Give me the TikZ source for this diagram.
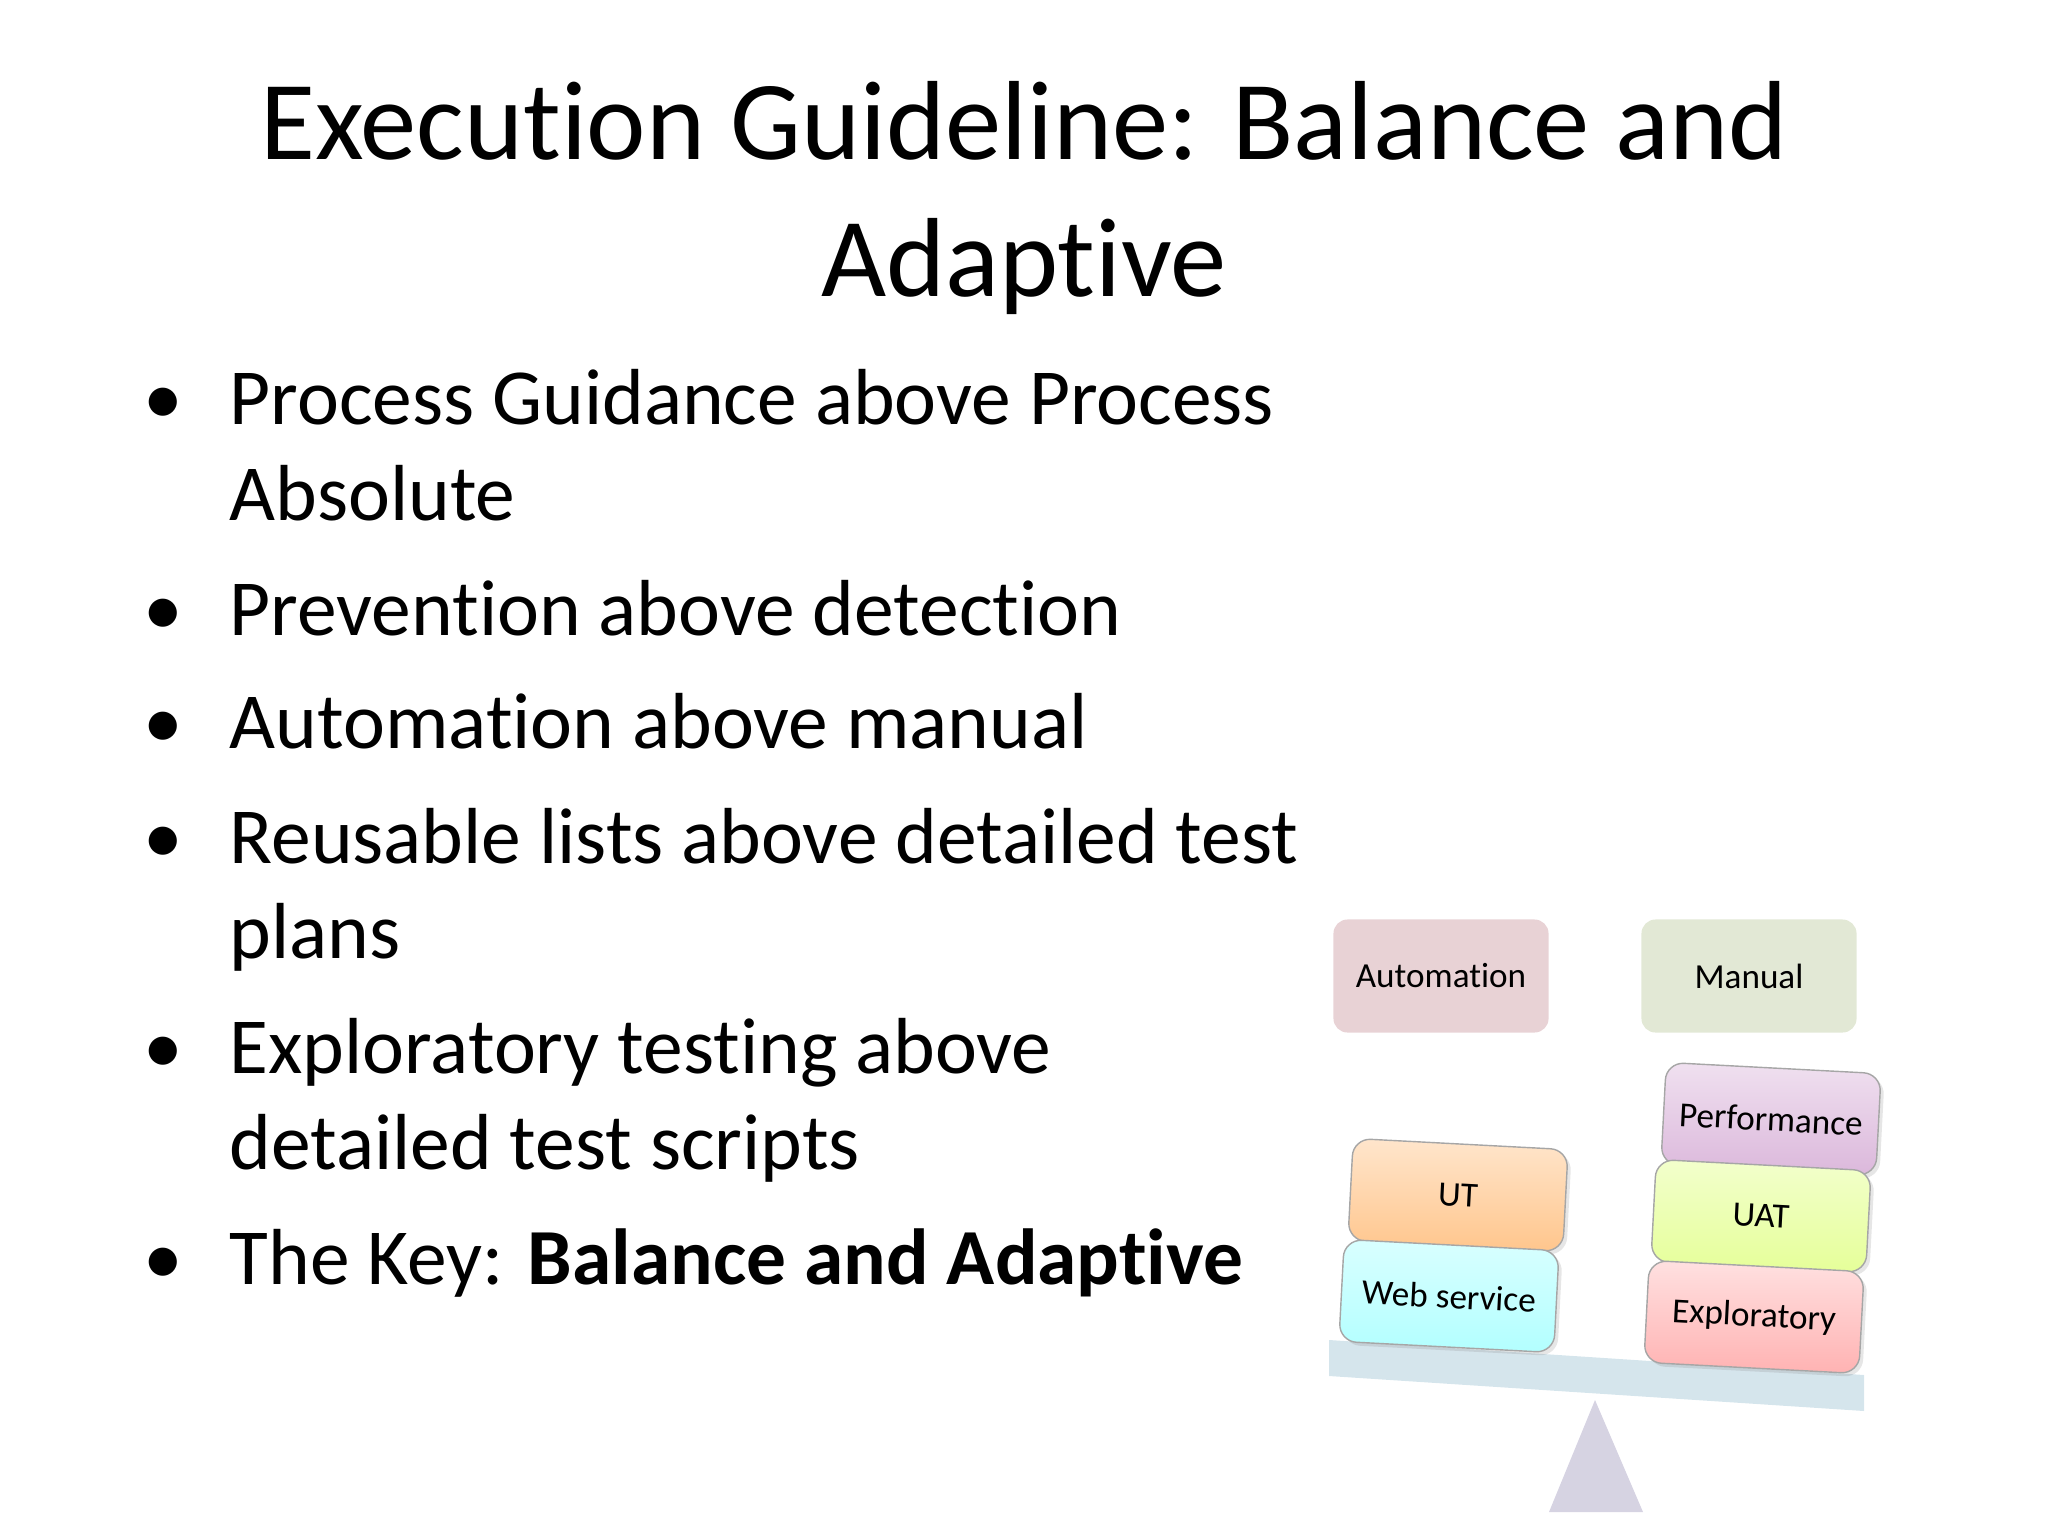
\documentclass[tikz,border=0pt]{standalone}
\usepackage{fontspec}
\setmainfont{Carlito}[Ligatures=NoCommon]
\usetikzlibrary{shadows}
\definecolor{autofill}{HTML}{E8D2D5}
\definecolor{manfill}{HTML}{E2E8D5}
\definecolor{beamcol}{HTML}{D5E5EC}
\definecolor{pivotcol}{HTML}{D6D3E2}
\begin{document}
\begin{tikzpicture}[x=0.01cm,y=-0.01cm,
    head/.style={font=\fontsize{10}{12}\selectfont,rounded corners=4pt,
      minimum width=2.15cm,minimum height=1.13cm},
    brick/.style={font=\fontsize{10}{12}\selectfont,rounded corners=5pt,draw=gray!70,
      minimum width=2.15cm,minimum height=1.02cm,rotate=-3,
      drop shadow={opacity=0.2,shadow xshift=1pt,shadow yshift=-1pt}},
    titleline/.style={anchor=base,inner sep=0pt,font=\fontsize{32}{34}\selectfont},
    item/.style={anchor=base west,inner sep=0pt,font=\fontsize{22.6}{24}\selectfont}]
  \useasboundingbox (0,0) rectangle (2048,1536);

  % Title
  \node[titleline] (title1) at (1024,159) {Execution Guideline: Balance and};
  \node[titleline] (title2) at (1024,296) {Adaptive};

  % Bullets (one node per line)
  \foreach \y/\mark/\txt [count=\i] in {424/1/{Process Guidance above Process},
      520/0/{Absolute},
      635/1/{Prevention above detection},
      748/1/{Automation above manual},
      863/1/{Reusable lists above detailed test},
      958/0/{plans},
      1073/1/{Exploratory testing above},
      1169/0/{detailed test scripts},
      1284/1/{The Key: \textbf{Balance and Adaptive}}} {
    \node[item] (l\i) at (229,\y) {\txt};
    \ifnum\mark=1
      \node[item,anchor=base] (dot\i) at (163,\y) {\textbullet};
    \fi
  }

  % Balance
  \fill[beamcol] (1329,1340) -- (1864,1375) -- (1864,1411) -- (1329,1376) -- cycle;
  \fill[pivotcol] (1595,1400) -- (1643,1512) -- (1549,1512) -- cycle;

  \node[head,fill=autofill] (auto) at (1441,976) {Automation};
  \node[head,fill=manfill] (manual) at (1749,976) {Manual};

  \node[brick,top color=orange!20,bottom color=orange!45] (ut) at (1458,1195) {UT};
  \node[brick,top color=cyan!15,bottom color=cyan!30] (web) at (1449,1296) {Web service};
  \node[brick,top color=violet!12,bottom color=violet!28] (perf) at (1771,1119) {Performance};
  \node[brick,top color=lime!20,bottom color=lime!40] (uat) at (1761,1216) {UAT};
  \node[brick,top color=red!12,bottom color=red!30] (expl) at (1754,1317) {Exploratory};
\end{tikzpicture}
\end{document}
